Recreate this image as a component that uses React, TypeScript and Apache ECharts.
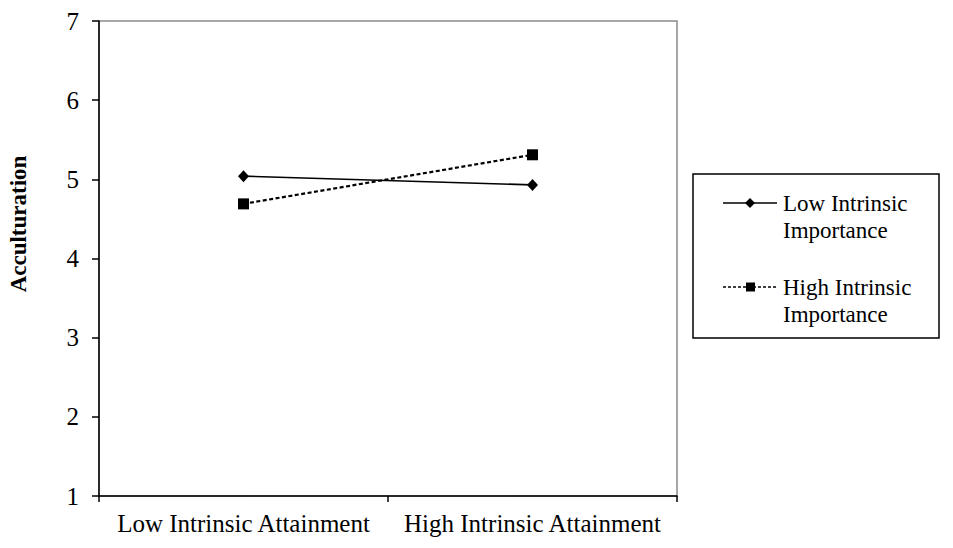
import React, { useEffect, useRef } from "react";
import * as echarts from "echarts";

const categories = ["Low Intrinsic Attainment", "High Intrinsic Attainment"];
const seriesNames = ["Low Intrinsic\nImportance", "High Intrinsic\nImportance"];
const lowImportance = [5.04, 4.93];
const highImportance = [4.69, 5.31];
const yTicks = [1, 2, 3, 4, 5, 6, 7];

const FONT = "'Liberation Serif', 'Times New Roman', serif";

export default function App() {
  const ref = useRef<HTMLDivElement>(null);
  useEffect(() => {
    if (!ref.current) return;
    const chart = echarts.init(ref.current, null, { renderer: "svg" });
    const legendX = 723;
    const legendRows = [203, 287];
    const legendGraphics: any[] = [
      {
        type: "rect",
        shape: { x: 693, y: 174, width: 246, height: 164 },
        style: { fill: "#fff", stroke: "#000", lineWidth: 1.5 },
      },
    ];
    seriesNames.forEach((name, i) => {
      const y = legendRows[i];
      legendGraphics.push({
        type: "line",
        shape: { x1: legendX, y1: y, x2: legendX + 54, y2: y },
        style: {
          stroke: "#000",
          lineWidth: i === 0 ? 1.5 : 1.3,
          lineDash: i === 0 ? null : [3, 2],
        },
      });
      if (i === 0) {
        legendGraphics.push({
          type: "polygon",
          shape: { points: [[750, y - 5], [755, y], [750, y + 5], [745, y]] },
          style: { fill: "#000" },
        });
      } else {
        legendGraphics.push({
          type: "rect",
          shape: { x: 746, y: y - 4.5, width: 9, height: 9 },
          style: { fill: "#000" },
        });
      }
      legendGraphics.push({
        type: "text",
        x: 783,
        y: y - 13,
        style: {
          text: name,
          font: `23px ${FONT}`,
          fill: "#000",
          lineHeight: 27,
        },
      });
    });

    chart.setOption({
      animation: false,
      backgroundColor: "#fff",
      grid: {
        left: 99,
        right: 276,
        top: 21,
        bottom: 52,
        show: true,
        borderColor: "#8a8a8a",
        borderWidth: 1.5,
      },
      xAxis: {
        type: "category",
        data: categories,
        boundaryGap: true,
        axisLine: { lineStyle: { color: "#000", width: 1.5 } },
        axisTick: { show: true, length: 6, alignWithLabel: false, lineStyle: { color: "#000", width: 1.5 } },
        axisLabel: { color: "#000", fontFamily: FONT, fontSize: 25, margin: 15, interval: 0 },
        splitLine: { show: false },
      },
      yAxis: {
        type: "value",
        min: yTicks[0],
        max: yTicks[yTicks.length - 1],
        interval: 1,
        axisLine: { show: true, lineStyle: { color: "#000", width: 1.5 } },
        axisTick: { show: true, length: 7, lineStyle: { color: "#000", width: 1.5 } },
        axisLabel: { color: "#000", fontFamily: FONT, fontSize: 25, margin: 20 },
        splitLine: { show: false },
      },
      series: [
        {
          name: seriesNames[0],
          type: "line",
          data: lowImportance,
          symbol: "diamond",
          symbolSize: [11, 12],
          lineStyle: { color: "#000", width: 1.6 },
          itemStyle: { color: "#000" },
        },
        {
          name: seriesNames[1],
          type: "line",
          data: highImportance,
          symbol: "rect",
          symbolSize: 11,
          lineStyle: { color: "#000", width: 2.2, type: [4, 2.5] },
          itemStyle: { color: "#000" },
        },
      ],
      graphic: [
        {
          type: "text",
          x: 18,
          y: 224,
          rotation: Math.PI / 2,
          style: {
            text: "Acculturation",
            font: `bold 23px ${FONT}`,
            fill: "#000",
            align: "center",
            verticalAlign: "middle",
          },
        },
        ...legendGraphics,
      ],
    });
    return () => chart.dispose();
  }, []);
  return (
    <div
      ref={ref}
      style={{ position: "fixed", left: 0, top: 0, width: 953, height: 548 }}
    />
  );
}
